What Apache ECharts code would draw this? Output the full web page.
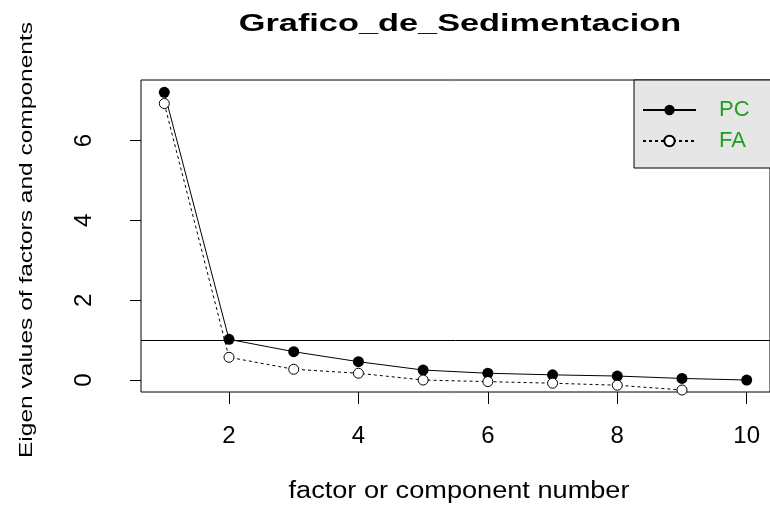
<!DOCTYPE html>
<html>
<head>
<meta charset="utf-8">
<script src="https://cdn.jsdelivr.net/npm/echarts@6/dist/echarts.min.js"></script>
<style>
  html, body { margin: 0; padding: 0; background: #fff; }
  #chart { width: 770px; height: 506px; }
</style>
</head>
<body>
<div id="chart"></div>
<script>
// component numbers and eigen values
var components = [1, 2, 3, 4, 5, 6, 7, 8, 9, 10];
var pcValues = [7.21, 1.02, 0.71, 0.46, 0.25, 0.17, 0.13, 0.10, 0.04, 0.00];
var faValues = [6.93, 0.57, 0.27, 0.17, 0.00, -0.04, -0.08, -0.13, -0.25, null];
var xTicks = [2, 4, 6, 8, 10];
var yTicks = [0, 2, 4, 6];
var kaiserLine = 1;

var font = 'Liberation Sans, Arial, sans-serif';

function pairs(vals) {
    var out = [];
    for (var i = 0; i < components.length; i++) {
        out.push([components[i], vals[i]]);
    }
    return out;
}

// the source image is stretched, so the long texts are drawn with scaleX
function stretchedText(txt, x, y, size, weight, sx, rot) {
    return {
        type: 'text',
        x: x,
        y: y,
        scaleX: sx,
        rotation: rot || 0,
        style: {
            text: txt,
            fill: '#000',
            font: weight + ' ' + size + 'px ' + font,
            textAlign: 'center',
            textVerticalAlign: 'middle'
        }
    };
}

var option = {
    animation: false,
    backgroundColor: '#fff',
    graphic: [
        stretchedText('Grafico_de_Sedimentacion', 460, 24, 24, 'bold', 1.43),
        stretchedText('factor or component number', 459, 492, 23, 'normal', 1.18),
        stretchedText('Eigen values of factors and components', 27, 240, 19, 'normal', 1.29, Math.PI / 2)
    ],
    legend: {
        orient: 'vertical',
        left: 634,
        top: 80,
        itemWidth: 53,
        itemHeight: 13,
        itemGap: 9,
        padding: [19, 60, 16, 8],
        backgroundColor: '#e6e6e6',
        borderColor: '#000',
        borderWidth: 1,
        textStyle: { fontFamily: font, fontSize: 22, color: '#1f9e1f', padding: [0, 0, 0, 18] },
        data: ['PC', 'FA']
    },
    grid: {
        left: 141,
        right: -11,
        top: 80,
        bottom: 114,
        show: true,
        borderColor: '#000',
        borderWidth: 1,
        backgroundColor: 'transparent'
    },
    xAxis: {
        type: 'value',
        min: 0.64,
        max: 10.36,
        axisLine: { show: false, onZero: false },
        splitLine: { show: false },
        axisTick: { show: true, length: 12, customValues: xTicks, lineStyle: { color: '#000' } },
        axisLabel: { customValues: xTicks, margin: 32, fontFamily: font, fontSize: 24, color: '#000' }
    },
    yAxis: {
        type: 'value',
        min: -0.30,
        max: 7.52,
        axisLine: { show: false, onZero: false },
        splitLine: { show: false },
        axisTick: { show: true, length: 11, customValues: yTicks, lineStyle: { color: '#000' } },
        axisLabel: { customValues: yTicks, rotate: 90, margin: 45, fontFamily: font, fontSize: 24, color: '#000' }
    },
    series: [
        {
            name: 'PC',
            type: 'line',
            symbol: 'circle',
            symbolSize: 11,
            itemStyle: { color: '#000' },
            lineStyle: { color: '#000', width: 1 },
            data: pairs(pcValues),
            markLine: {
                silent: true,
                symbol: 'none',
                label: { show: false },
                lineStyle: { color: '#000', width: 1, type: 'solid' },
                data: [{ yAxis: kaiserLine }]
            }
        },
        {
            name: 'FA',
            type: 'line',
            symbol: 'circle',
            symbolSize: 10,
            itemStyle: { color: '#fff', borderColor: '#000', borderWidth: 1 },
            lineStyle: { color: '#000', width: 1, type: [3, 3] },
            data: pairs(faValues)
        }
    ]
};

var myChart = echarts.init(document.getElementById('chart'));
myChart.setOption(option);
</script>
</body>
</html>
